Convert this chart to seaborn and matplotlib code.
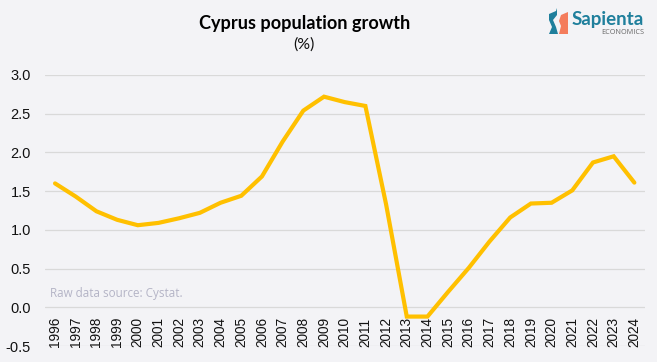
import matplotlib
matplotlib.use('Agg')
import matplotlib.pyplot as plt
import pandas as pd
import seaborn as sns
from matplotlib.patches import Polygon

years = list(range(1996, 2025))
growth = [1.60, 1.43, 1.24, 1.13, 1.06, 1.09, 1.15, 1.22, 1.35, 1.44, 1.69, 2.14, 2.54, 2.72, 2.65, 2.60,
          1.33, -0.12, -0.12, 0.20, 0.51, 0.85, 1.16, 1.34, 1.35, 1.51, 1.87, 1.95, 1.61]
y_ticks = [-0.5, 0.0, 0.5, 1.0, 1.5, 2.0, 2.5, 3.0]

W, H = 657, 362
bg = '#f3f3f6'

sns.set_theme(style='white')
plt.rcParams['font.family'] = ['Liberation Sans', 'DejaVu Sans']

df = pd.DataFrame({'year': years, 'growth': growth})

fig = plt.figure(figsize=(W / 100, H / 100), dpi=100, facecolor=bg)
ax = fig.add_axes([44.7 / W, 1 - 346 / H, 600 / W, (346 - 75) / H], facecolor=bg)

sns.lineplot(data=df, x='year', y='growth', color='#ffc000', lw=3.0, ax=ax, solid_capstyle='round', solid_joinstyle='miter', zorder=3)

ax.set_xlim(1995.5, 2024.5)
ax.set_ylim(-0.5, 3.0)
ax.set_yticks(y_ticks)
ax.set_yticklabels([f'{v:.1f}' for v in y_ticks], fontsize=10.5, color='#111111')
ax.set_xticks(years)
ax.set_xticklabels(years, rotation=90, fontsize=9.8, color='#111111')
ax.tick_params(axis='both', length=0)
ax.tick_params(axis='x', pad=0.7)
ax.tick_params(axis='y', pad=10)
for lab in ax.get_xticklabels():
    lab.set_verticalalignment('bottom')
ax.set_xlabel('')
ax.set_ylabel('')
ax.grid(axis='y', color='#d9d9d9', lw=0.9)
ax.set_axisbelow(True)
sns.despine(ax=ax, left=True, bottom=True)

fig.text(304.5 / W, 1 - 23 / H, 'Cyprus population growth', ha='center', va='center', fontsize=13.1,
         fontweight='bold', family=['Lato', 'DejaVu Sans'], color='black')
fig.text(304 / W, 1 - 45 / H, '(%)', ha='center', va='center', fontsize=11.5, family=['Lato', 'DejaVu Sans'], color='#111111')
fig.text(50 / W, 1 - 293 / H, 'Raw data source: Cystat.', ha='left', va='center', fontsize=8.4,
         family=['Open Sans', 'DejaVu Sans'], color='#b4b4c6')

# logo
fig.text(572 / W, 1 - 20 / H, 'Sapienta', ha='left', va='center', fontsize=13.5, fontweight='bold',
         family=['Lato', 'DejaVu Sans'], color='#1f7f9c')
fig.text(601 / W, 1 - 32 / H, 'ECONOMICS', ha='left', va='center', fontsize=5.2,
         family=['Open Sans', 'DejaVu Sans'], color='#666666')
teal = [(549, 14), (556, 11), (557, 8), (557, 15), (553, 20), (556, 27), (558, 34), (549, 34), (552, 27), (549, 20)]
coral = [(561, 15), (568, 12), (568, 34), (559, 34), (561, 26), (559, 21)]
for pts, col in [(teal, '#1f7f9c'), (coral, '#f47c5c')]:
    fig.add_artist(Polygon([(x / W, 1 - y / H) for x, y in pts], closed=True, transform=fig.transFigure, color=col, lw=0))

fig.savefig('out.png', dpi=100, facecolor=bg)
